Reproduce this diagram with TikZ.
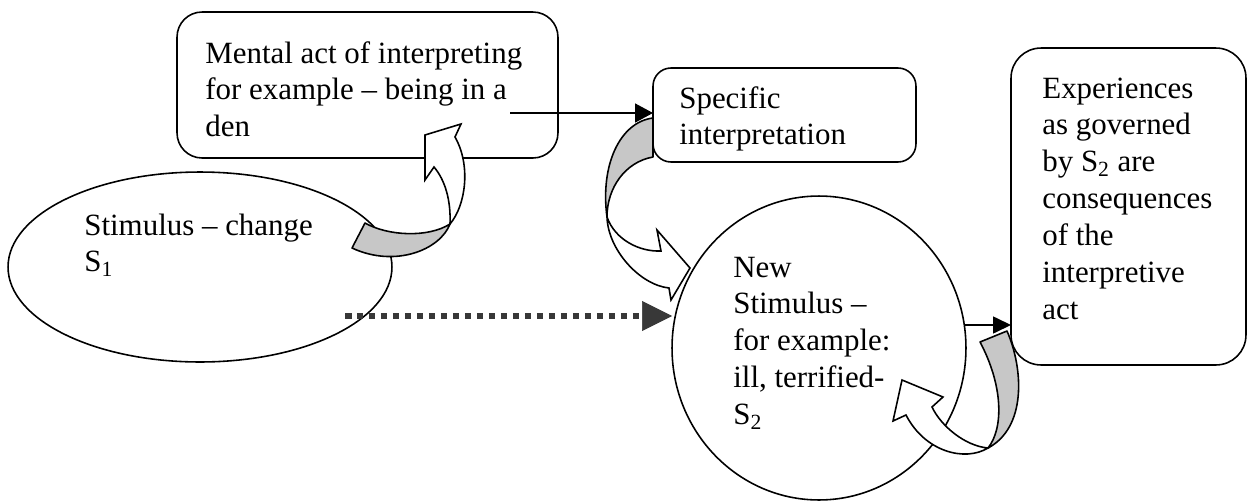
\documentclass[tikz,border=0pt]{standalone}
\usepackage{fontspec}
\setmainfont{Liberation Serif}
\usetikzlibrary{arrows.meta,shapes.geometric}
\begin{document}
\begin{tikzpicture}[x=0.02cm,y=-0.02cm,
  outline/.style={draw=black, line width=0.9pt},
  roundbox/.style={outline, rectangle, inner sep=0pt, outer sep=0pt},
  oval/.style={outline, ellipse, inner sep=0pt, outer sep=0pt},
  label/.style={anchor=base west, inner sep=0pt, font=\fontsize{17.6}{21}\selectfont},
  link/.style={line width=0.9pt, -{Triangle[length=0.36cm,width=0.38cm]}},
  dots/.style={draw=black!78, line width=0.13cm, dash pattern=on 0.13cm off 0.11cm,
    -{Triangle[length=0.6cm,width=0.6cm,line width=0.4pt]}},
  band/.style={draw=black, line width=0.9pt, fill=black!22, line join=round},
  sheet/.style={draw=black, line width=0.9pt, fill=white, line join=miter},
]
\useasboundingbox (0,0) rectangle (1249,501);

% boxes and ovals
\node[roundbox, rounded corners=0.5cm, minimum width=7.62cm, minimum height=2.92cm] (mental) at (367.5,85) {};
\node[roundbox, rounded corners=0.36cm, minimum width=5.26cm, minimum height=1.88cm] (specific) at (784.5,115) {};
\node[roundbox, rounded corners=0.6cm, minimum width=4.7cm, minimum height=6.34cm] (exper) at (1128.5,206.5) {};
\node[oval, minimum width=7.68cm, minimum height=3.8cm] (stim) at (200,267) {};
\node[oval, minimum width=5.88cm, minimum height=6.08cm] (newstim) at (819,348) {};

% texts
\node[label] (tmental) at (205,63) {\begin{tabular}[t]{@{}l@{}}Mental act of interpreting\\ for example -- being in a\\ den\end{tabular}};
\node[label] (tspecific) at (679,108) {\begin{tabular}[t]{@{}l@{}}Specific\\ interpretation\end{tabular}};
\node[label] (texper) at (1042,98) {\begin{tabular}[t]{@{}l@{}}Experiences\\ as governed\\ by S\textsubscript{2} are\\ consequences\\ of the\\ interpretive\\ act\end{tabular}};
\node[label] (tstim) at (84,235) {\begin{tabular}[t]{@{}l@{}}Stimulus -- change\\ S\textsubscript{1}\end{tabular}};
\node[label] (tnew) at (733,277) {\begin{tabular}[t]{@{}l@{}}New\\ Stimulus --\\ for example:\\ ill, terrified-\\ S\textsubscript{2}\end{tabular}};

% straight connectors
\coordinate (m1) at (510,113);
\draw[link] (m1) -- (m1 -| specific.west);
\coordinate (d1) at (345,316);
\draw[dots] (d1) -- (d1 -| newstim.west);
\draw[link, -{Triangle[length=0.36cm,width=0.34cm]}] (newstim.9) -- (newstim.9 -| exper.west);

% curved block arrow: stimulus to mental act
\filldraw[band] (365,223) .. controls (388,236) and (428,238) .. (450,224)
  .. controls (440,250) and (395,268) .. (352,248) -- cycle;
\filldraw[sheet] (450,224) .. controls (466,205) and (471,165) .. (455,137)
  -- (461,124) -- (425,135) -- (425,180) -- (434,167)
  .. controls (445,180) and (451,200) .. (450,224) -- cycle;

% curved block arrow: specific interpretation to new stimulus
\filldraw[band] (653,118) .. controls (620,122) and (600,165) .. (607,217)
  .. controls (607,188) and (625,162) .. (653,157) -- cycle;
\filldraw[sheet] (607,217) .. controls (608,250) and (640,285) .. (669,288)
  -- (671,300) -- (690,268) -- (657,230) -- (661,251)
  .. controls (640,252) and (615,240) .. (607,217) -- cycle;

% curved block arrow: experiences back to new stimulus
\filldraw[band] (980,342) -- (1007,331) .. controls (1024,370) and (1026,428) .. (988,448)
  .. controls (1004,428) and (1003,385) .. (980,342) -- cycle;
\filldraw[sheet] (988,448) .. controls (965,462) and (925,452) .. (906,415)
  -- (893,421) -- (902,380) -- (943,397) -- (932,407)
  .. controls (941,426) and (965,446) .. (988,448) -- cycle;
\end{tikzpicture}
\end{document}
